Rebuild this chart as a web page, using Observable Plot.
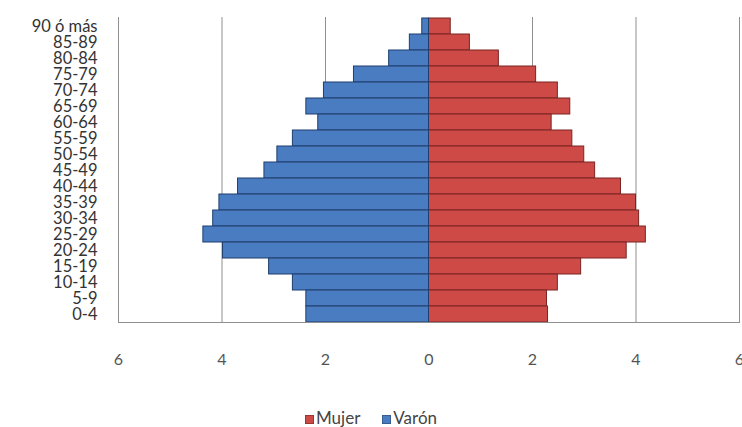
<!DOCTYPE html>
<html>
<head>
<meta charset="utf-8">
<script src="https://cdn.jsdelivr.net/npm/d3@7"></script>
<script src="https://cdn.jsdelivr.net/npm/@observablehq/plot@0.6"></script>
<style>
  body { margin: 0; background: #fff; font-family: Lato, "Open Sans", sans-serif; }
  #legend { position: absolute; top: 407px; left: 0; width: 742px; text-align: center; font-size: 17px; color: #444; }
  #legend span.sw { display: inline-block; width: 9px; height: 9px; margin-right: 2px; vertical-align: 0px; border: 1px solid rgba(0,0,0,0.25); box-sizing: border-box; }
  #legend span.item { margin: 0 11px; }
</style>
</head>
<body>
<div id="chart"></div>
<div id="legend"></div>
<script>
// Age groups, oldest at the top
const ageGroups = ["90 ó más", "85-89", "80-84", "75-79", "70-74", "65-69", "60-64", "55-59", "50-54", "45-49",
  "40-44", "35-39", "30-34", "25-29", "20-24", "15-19", "10-14", "5-9", "0-4"];
// Percent of population by sex
const mujer = [0.42, 0.79, 1.35, 2.07, 2.49, 2.73, 2.37, 2.77, 3.0, 3.21,
  3.71, 4.0, 4.06, 4.19, 3.82, 2.94, 2.49, 2.28, 2.30];
const varon = [0.13, 0.37, 0.77, 1.45, 2.03, 2.37, 2.14, 2.63, 2.93, 3.18,
  3.69, 4.05, 4.17, 4.36, 3.98, 3.09, 2.63, 2.37, 2.37];
const xTicks = [-6, -4, -2, 0, 2, 4, 6];

const colorMujer = "#cd4a47", colorVaron = "#4a7cc2";

const rows = ageGroups.flatMap((age, i) => [
  {age, sexo: "Mujer", v: mujer[i]},
  {age, sexo: "Varón", v: -varon[i]}
]);

const chart = Plot.plot({
  width: 742,
  height: 395,
  marginTop: 17,
  marginBottom: 72,
  marginLeft: 118,
  marginRight: 3,
  style: { fontFamily: "Lato, 'Open Sans', sans-serif", background: "#fff" },
  x: { domain: [-6, 6], label: null },
  y: { domain: ageGroups, padding: 0, label: null },
  marks: [
    // vertical gridlines spanning the full plot height
    Plot.ruleX(xTicks.filter(d => d !== 0), { stroke: "#8f8f8f", strokeWidth: 1 }),
    Plot.barX(rows, {
      y: "age", x1: 0, x2: "v",
      fill: d => d.sexo === "Mujer" ? colorMujer : colorVaron,
      stroke: d => d.sexo === "Mujer" ? "#7a2423" : "#1f3f6e",
      strokeWidth: 1, inset: 0
    }),
    // baseline under the youngest group
    Plot.ruleY([ageGroups[ageGroups.length - 1]], { x1: -6, x2: 6, dy: 8, stroke: "#8f8f8f" }),
    Plot.axisX({ ticks: xTicks, tickFormat: d => Math.abs(d), tickSize: 0, tickPadding: 30, fontSize: 16, color: "#555" }),
    Plot.axisY({ tickSize: 0, tickPadding: 21, fontSize: 16.5, color: "#333" })
  ]
});
document.getElementById("chart").appendChild(chart);

const legend = document.getElementById("legend");
[["Mujer", colorMujer], ["Varón", colorVaron]].forEach(([name, c]) => {
  const item = document.createElement("span");
  item.className = "item";
  item.innerHTML = `<span class="sw" style="background:${c}"></span>${name}`;
  legend.appendChild(item);
});
</script>
</body>
</html>
